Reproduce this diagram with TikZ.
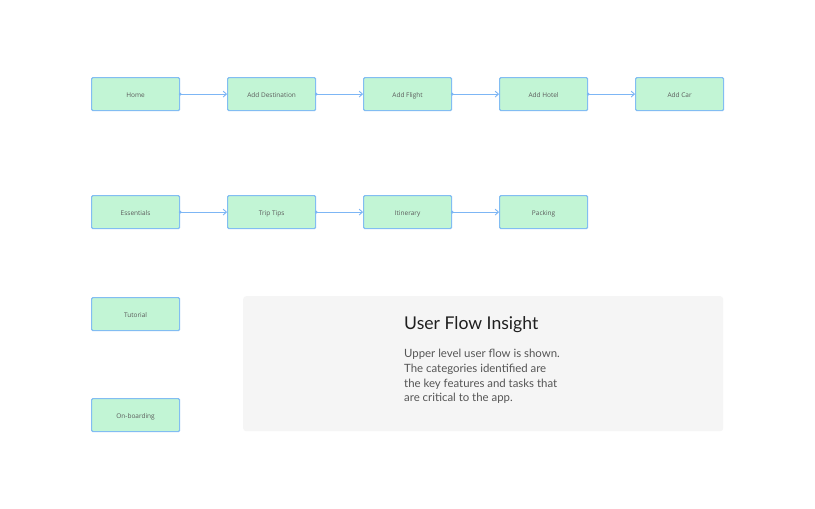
\documentclass[tikz,border=0pt]{standalone}
\usepackage{fontspec}
\setmainfont{Lato}
\newfontfamily\boxfont{Open Sans}
\usetikzlibrary{arrows.meta}
\definecolor{boxfill}{HTML}{C2F5D5}
\definecolor{boxline}{HTML}{82BDF2}
\definecolor{arrowcol}{HTML}{7DB6F5}
\definecolor{boxtext}{HTML}{5A5A5A}
\definecolor{panelfill}{HTML}{F5F5F5}
\definecolor{bodytext}{HTML}{555555}
\begin{document}
\begin{tikzpicture}[x=1pt,y=-1pt,
  flowbox/.style={draw=boxline, line width=1.2pt, fill=boxfill, rounded corners=1.2pt,
    minimum width=88pt, minimum height=33pt, inner sep=0pt, anchor=north west,
    text height=6.2pt, text depth=0.2pt,
    font=\boxfont\fontsize{6.5}{8}\selectfont, text=boxtext},
  flowarrow/.style={draw=arrowcol, line width=0.9pt, {Circle[length=2.6pt]}-{Straight Barb[length=3.2pt,width=6pt,line width=0.9pt]}, shorten <=-1.3pt}
]
\useasboundingbox (0,0) rectangle (815,509);
\fill[white] (0,0) rectangle (815,509);
% row 1
\node[flowbox] (home) at (91,77) {Home};
\node[flowbox] (dest) at (227,77) {Add Destination};
\node[flowbox] (flight) at (363,77) {Add Flight};
\node[flowbox] (hotel) at (499,77) {Add Hotel};
\node[flowbox] (car) at (635,77) {Add Car};
% row 2
\node[flowbox] (ess) at (91,195) {Essentials};
\node[flowbox] (tips) at (227,195) {Trip Tips};
\node[flowbox] (itin) at (363,195) {Itinerary};
\node[flowbox] (pack) at (499,195) {Packing};
% column
\node[flowbox] (tut) at (91,297) {Tutorial};
\node[flowbox] (onb) at (91,398) {On-boarding};
% arrows
\draw[flowarrow] (home.east) -- (dest.west);
\draw[flowarrow] (dest.east) -- (flight.west);
\draw[flowarrow] (flight.east) -- (hotel.west);
\draw[flowarrow] (hotel.east) -- (car.west);
\draw[flowarrow] (ess.east) -- (tips.west);
\draw[flowarrow] (tips.east) -- (itin.west);
\draw[flowarrow] (itin.east) -- (pack.west);
% panel
\node[fill=panelfill, rounded corners=3pt, minimum width=480pt, minimum height=135pt, anchor=north west, inner sep=0pt] (panel) at (243,296) {};
\node[anchor=north west, inner sep=0pt, font=\fontsize{17.6}{21}\selectfont, text=black!88] (title) at (404,316) {User Flow Insight};
\node[anchor=north west, inner sep=0pt, align=left, font=\fontsize{11.4}{14.7}\selectfont, text=bodytext] (body) at (404,349) {Upper level user flow is shown.\\The categories identified are\\the key features and tasks that\\are critical to the app.};
\end{tikzpicture}
\end{document}
